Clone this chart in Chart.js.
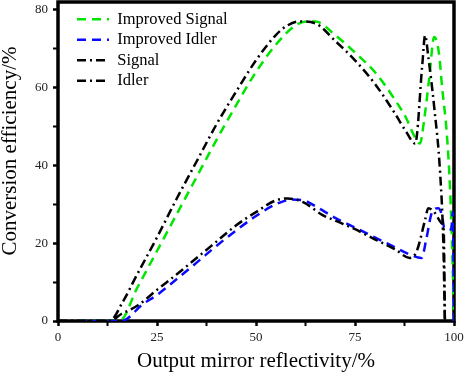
<!DOCTYPE html>
<html>
<head>
<meta charset="utf-8">
<script src="https://cdn.jsdelivr.net/npm/chart.js@4.4.0/dist/chart.umd.min.js"></script>
<style>
  html, body { margin: 0; padding: 0; background: #fff; }
</style>
</head>
<body>
<canvas id="c" width="464" height="374"></canvas>
<script>
// output mirror reflectivity (%) -> conversion efficiency (%)
const impSignalX = [5, 15.5, 20, 25, 30, 35, 40, 45, 50, 55, 60, 63, 65, 70, 75, 80, 85, 88, 90, 91.4, 92.5, 93.7, 95, 96.2, 97, 98.2, 99, 99.5, 100];
const impSignalY = [0, 0, 8.5, 18, 27.5, 37, 46.5, 55.5, 64, 71, 76, 77, 77, 73.5, 69, 64, 57, 52, 47.5, 45.6, 52, 62, 73, 68.8, 60, 48, 34, 20, 0];

const impIdlerX = [5, 16, 21.5, 25, 30, 35, 40, 45, 50, 55, 59, 62, 65, 70, 75, 80, 85, 89, 91.8, 93, 94.4, 96, 97, 97.5, 98.5, 99.3, 99.7, 100];
const impIdlerY = [0, 0, 4.4, 6.7, 10.8, 15, 19.3, 23.3, 27, 30, 31.2, 31, 29.5, 26.5, 24, 21.5, 19, 17, 16.2, 21, 27.8, 29, 27, 24, 23.5, 23.5, 28, 0];

const signalX = [0, 13, 16.4, 20, 25, 30, 35, 40, 45, 50, 55, 58, 61, 65, 70, 75, 80, 85, 88, 90.2, 92, 92.7, 93.5, 95, 96.5, 97.3, 97.7];
const signalY = [0, 0, 5, 12, 21.5, 31.5, 41, 50.5, 59, 67, 73.5, 76, 77, 76.5, 72, 67, 61, 53.5, 48.5, 45.6, 66, 73.4, 68, 55, 38, 20, 0];

const idlerX = [0, 13, 16, 20, 25, 30, 35, 40, 45, 50, 55, 58, 62, 66.7, 70, 75, 80, 85, 88.8, 90.6, 92.7, 93.5, 95, 97, 97.4, 97.7];
const idlerY = [0, 0, 1.8, 3.9, 8, 12, 16.2, 20.4, 24.6, 28, 31, 31.5, 30.5, 27.3, 25.8, 23.6, 21, 18.5, 16.2, 18, 26, 29, 28, 25, 23.5, 0];

// ticks
const xMajor = [0, 25, 50, 75, 100];
const xMinor = [12.5, 37.5, 62.5, 87.5];
const yMajor = [0, 20, 40, 60, 80];
const yMinor = [10, 30, 50, 70];

const pts = (xs, ys) => xs.map((x, i) => ({ x, y: ys[i] }));
const serif = "'Liberation Serif', 'Times New Roman', serif";
const dashed = [9, 6];
const dashDot = [9, 4, 2, 4];

function setTicks(major, minor) {
  return scale => {
    scale.ticks = major.concat(minor).sort((a, b) => a - b).map(v => ({ value: v, major: major.includes(v) }));
  };
}

// box around the plot + move the legend a bit inside
const frame = {
  id: "frame",
  afterLayout(chart) {
    chart.legend.left += 15;
    chart.legend.top += 7;
  },
  beforeDatasetsDraw(chart) {
    const a = chart.chartArea, ctx = chart.ctx;
    ctx.save();
    ctx.strokeStyle = "#000";
    ctx.lineWidth = 3.5;
    ctx.strokeRect(a.left, a.top, a.right - a.left, a.bottom - a.top);
    ctx.restore();
  }
};

new Chart(document.getElementById("c"), {
  type: "line",
  data: {
    datasets: [
      { label: "Improved Signal", data: pts(impSignalX, impSignalY), borderColor: "#00e600", borderDash: dashed, order: 2 },
      { label: "Improved Idler",  data: pts(impIdlerX, impIdlerY),   borderColor: "#0a0aff", borderDash: dashed, order: 1 },
      { label: "Signal",          data: pts(signalX, signalY),       borderColor: "#000",    borderDash: dashDot, order: 0 },
      { label: "Idler",           data: pts(idlerX, idlerY),         borderColor: "#000",    borderDash: dashDot, order: 0 }
    ]
  },
  options: {
    responsive: false,
    animation: false,
    devicePixelRatio: 1,
    elements: {
      line: { borderWidth: 2.5, cubicInterpolationMode: "monotone", fill: false },
      point: { radius: 0, hoverRadius: 0 }
    },
    layout: { padding: { top: 2, right: 10, left: 0, bottom: 0 } },
    scales: {
      x: {
        type: "linear",
        min: 0, max: 100,
        afterBuildTicks: setTicks(xMajor, xMinor),
        afterFit: s => { s.height = 53; s.paddingLeft = 0; s.paddingRight = 0; },
        border: { display: false },
        grid: {
          drawOnChartArea: false, tickLength: 5, tickColor: "#000",
          tickWidth: c => (c.tick && c.tick.major ? 2.5 : 2)
        },
        ticks: {
          padding: 4, color: "#222", font: { family: serif, size: 13 },
          maxRotation: 0, autoSkip: false,
          callback: v => (xMajor.includes(v) ? String(v) : "")
        },
        title: {
          display: true, text: "Output mirror reflectivity/%", color: "#000",
          font: { family: serif, size: 21, lineHeight: 1.2 }, padding: 0
        }
      },
      y: {
        min: 0, max: 82,
        afterBuildTicks: setTicks(yMajor, yMinor),
        afterFit: s => { s.width = 58; s.paddingTop = 0; s.paddingBottom = 0; },
        border: { display: false },
        grid: {
          drawOnChartArea: false, tickLength: 5, tickColor: "#000",
          tickWidth: c => (c.tick && c.tick.major ? 2.5 : 2)
        },
        ticks: {
          padding: 5, color: "#222", font: { family: serif, size: 13 },
          autoSkip: false,
          callback: v => (yMajor.includes(v) ? String(v) : "")
        },
        title: {
          display: true, text: "    Conversion efficiency/%", color: "#000",
          font: { family: serif, size: 21, lineHeight: 1 }, padding: 0
        }
      }
    },
    plugins: {
      tooltip: { enabled: false },
      legend: {
        position: "chartArea",
        align: "start",
        labels: {
          usePointStyle: true,
          pointStyleWidth: 32,
          padding: 4,
          color: "#000",
          font: { family: serif, size: 16.5 },
          sort: (a, b) => a.datasetIndex - b.datasetIndex,
          generateLabels: chart => {
            const items = Chart.defaults.plugins.legend.labels.generateLabels(chart);
            return items.map(it => {
              const ds = chart.data.datasets[it.datasetIndex];
              return Object.assign(it, {
                pointStyle: "line",
                strokeStyle: ds.borderColor,
                lineDash: ds.borderDash,
                lineWidth: 2.5
              });
            });
          }
        }
      }
    }
  },
  plugins: [frame]
});
</script>
</body>
</html>
